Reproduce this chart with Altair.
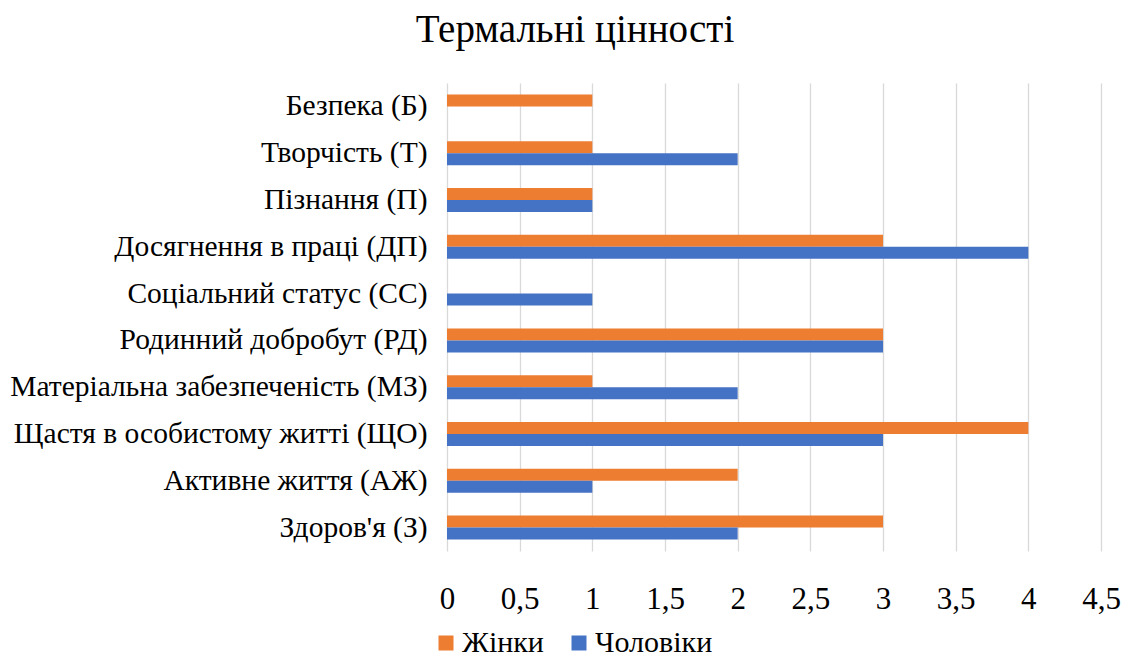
import altair as alt
import pandas as pd

categories = [
    "Безпека (Б)",
    "Творчість (Т)",
    "Пізнання (П)",
    "Досягнення в праці (ДП)",
    "Соціальний статус (СС)",
    "Родинний добробут (РД)",
    "Матеріальна забезпеченість (МЗ)",
    "Щастя в особистому житті (ЩО)",
    "Активне життя (АЖ)",
    "Здоров'я (З)",
]
women = [1, 1, 1, 3, 0, 3, 1, 4, 2, 3]
men = [0, 2, 1, 4, 1, 3, 2, 3, 1, 2]
series = ["Жінки", "Чоловіки"]
colors = ["#ED7D31", "#4472C4"]
x_ticks = [0, 0.5, 1, 1.5, 2, 2.5, 3, 3.5, 4, 4.5]

rows = []
for c, w, m in zip(categories, women, men):
    rows.append({"cat": c, "series": series[0], "value": w})
    rows.append({"cat": c, "series": series[1], "value": m})
df = pd.DataFrame(rows)

FONT = "'Times New Roman', 'Liberation Serif', serif"

chart = alt.Chart(df).mark_bar().encode(
    y=alt.Y("cat:N", sort=categories, title=None,
            scale=alt.Scale(paddingInner=0.487, paddingOuter=0.2435),
            axis=alt.Axis(domain=False, ticks=False, labelPadding=20,
                          labelFontSize=29.5, labelFont=FONT, labelColor="#000000",
                          labelLimit=600)),
    yOffset=alt.YOffset("series:N", sort=series,
                        scale=alt.Scale(domain=series, paddingInner=0, paddingOuter=0)),
    x=alt.X("value:Q", title=None,
            scale=alt.Scale(domain=[0, 4.5], nice=False),
            axis=alt.Axis(values=x_ticks, domain=False, ticks=False, labelPadding=33,
                          labelFontSize=31, labelFont=FONT, labelColor="#000000",
                          labelFlush=False,
                          gridColor="#D9D9D9", gridWidth=1.3,
                          labelExpr="replace(format(datum.value, '.1~f'), '.', ',')")),
    color=alt.Color("series:N", sort=series,
                    scale=alt.Scale(domain=series, range=colors),
                    legend=alt.Legend(title=None, orient="none", direction="horizontal",
                                      legendX=-16, legendY=545,
                                      symbolType="square", symbolSize=225,
                                      symbolStrokeWidth=0,
                                      labelFont=FONT, labelFontSize=30,
                                      labelColor="#000000", columnPadding=20,
                                      labelOffset=1)),
).properties(
    width=654,
    height=468,
    title=alt.Title("Термальні цінності", font=FONT, fontSize=39, fontWeight="normal",
                    color="#000000", dx=-199, offset=33),
    autosize=alt.AutoSizeParams(type="none"),
    padding={"left": 439, "top": 75, "right": 20, "bottom": 112},
).configure(font=FONT).configure_view(stroke=None).configure_axisY(grid=False)

chart.save("out.html", embed_options={"renderer": "svg", "actions": False})
